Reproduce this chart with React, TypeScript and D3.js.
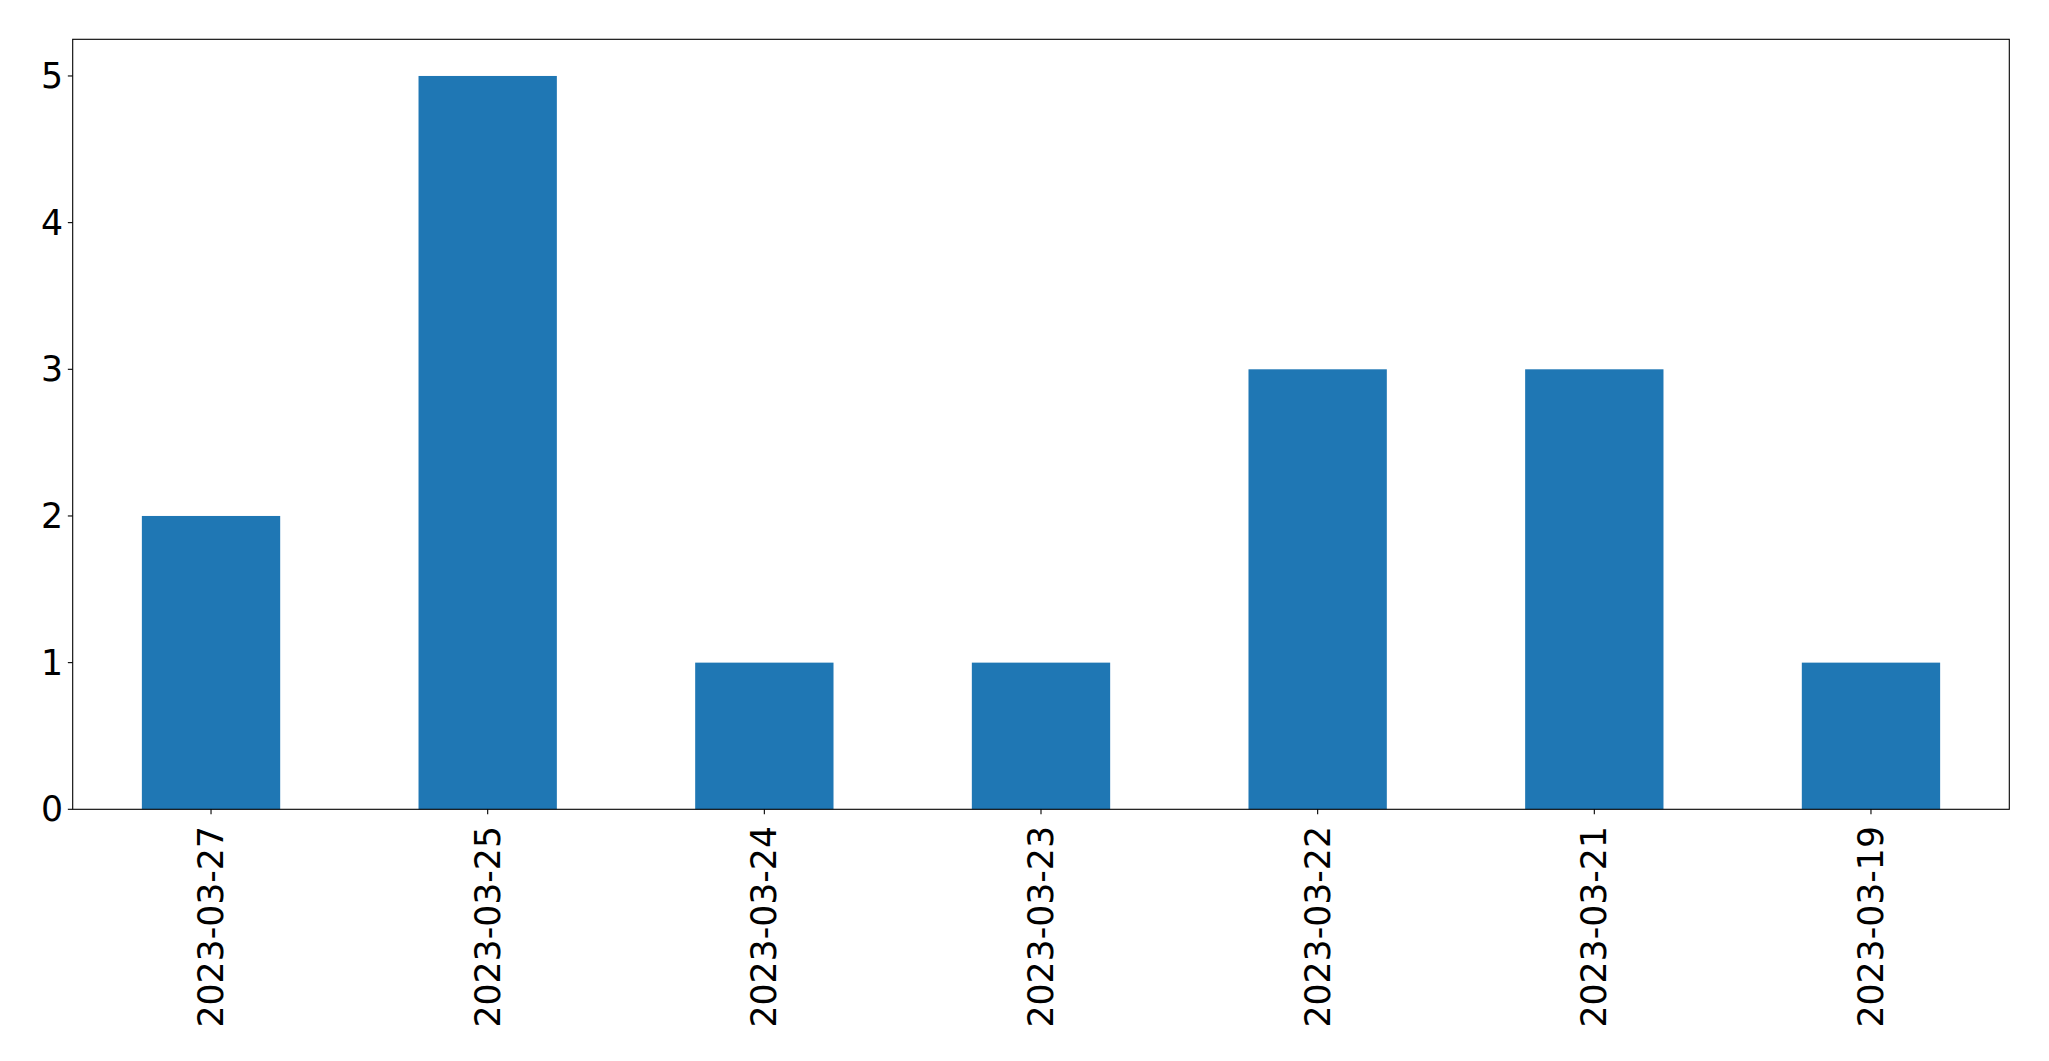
import React from "react";
import * as d3 from "d3";

const categories: string[] = ["2023-03-27", "2023-03-25", "2023-03-24", "2023-03-23", "2023-03-22", "2023-03-21", "2023-03-19"];
const counts: number[] = [2, 5, 1, 1, 3, 3, 1];
const yTicks: number[] = [0, 1, 2, 3, 4, 5];

const W = 2049;
const H = 1061;
const left = 72.7;
const right = 2009.3;
const top = 39.3;
const bottom = 809.3;
const fontSize = 34.7;
const tickLen = 4.86;
const pad = 4.86;

export default function App() {
  const x = d3.scaleLinear().domain([-0.5, categories.length - 0.5]).range([left, right]);
  const yMax = d3.max(counts)! * 1.05;
  const y = d3.scaleLinear().domain([0, yMax]).range([bottom, top]);
  const barW = x(0.25) - x(-0.25);
  const font = "DejaVu Sans, sans-serif";

  return (
    <svg width={W} height={H} style={{ position: "absolute", left: 0, top: 0, background: "#fff" }}>
      <rect x={0} y={0} width={W} height={H} fill="#fff" />
      {counts.map((v, i) => (
        <rect key={i} x={x(i) - barW / 2} y={y(v)} width={barW} height={y(0) - y(v)} fill="#1f77b4" />
      ))}
      {yTicks.map((t) => (
        <g key={t}>
          <line x1={left - tickLen} x2={left} y1={y(t)} y2={y(t)} stroke="#000" strokeWidth={1.1} />
          <text x={left - tickLen - pad} y={y(t)} textAnchor="end" dominantBaseline="central" fontFamily={font} fontSize={fontSize} fill="#000">
            {t}
          </text>
        </g>
      ))}
      {categories.map((c, i) => (
        <g key={c}>
          <line x1={x(i)} x2={x(i)} y1={bottom} y2={bottom + tickLen} stroke="#000" strokeWidth={1.1} />
          <text
            transform={`translate(${x(i)},${bottom + tickLen + pad + 7}) rotate(-90)`}
            textAnchor="end"
            dominantBaseline="central"
            fontFamily={font}
            fontSize={fontSize}
            fill="#000"
          >
            {c}
          </text>
        </g>
      ))}
      <rect x={left} y={top} width={right - left} height={bottom - top} fill="none" stroke="#000" strokeWidth={1.1} />
    </svg>
  );
}
